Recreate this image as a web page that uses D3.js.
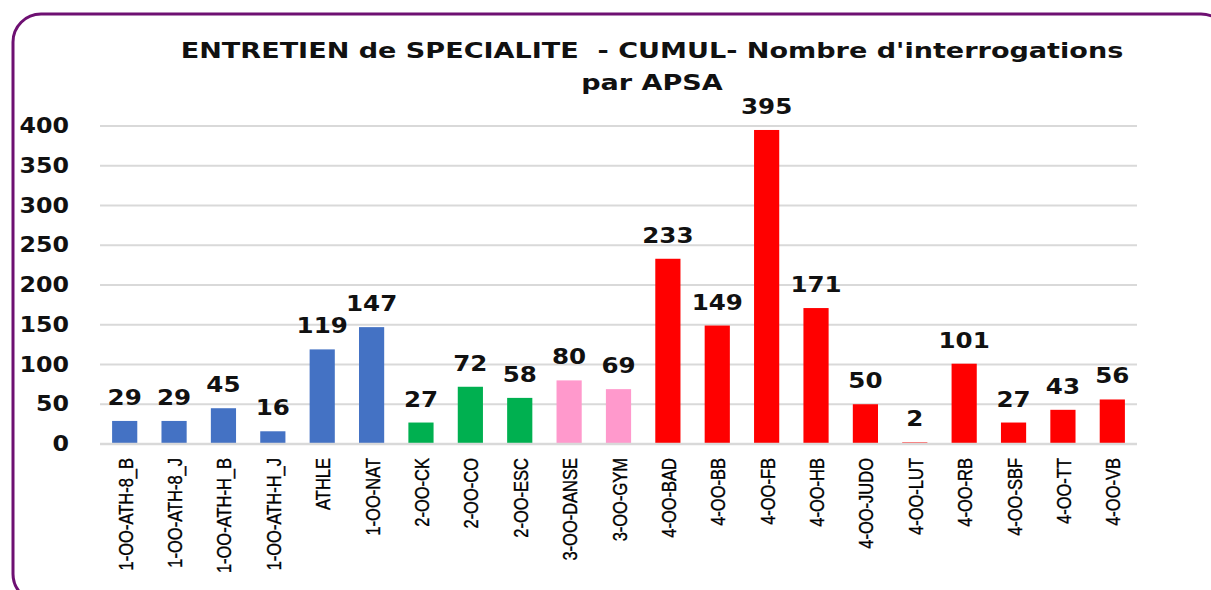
<!DOCTYPE html>
<html>
<head>
<meta charset="utf-8">
<script src="https://cdn.jsdelivr.net/npm/d3@7"></script>
<style>
  html, body { margin: 0; padding: 0; background: #fff; }
  svg { display: block; }
  text { white-space: pre; }
</style>
</head>
<body>
<div class="chart"></div>
<script>
const categories = [
  '1-OO-ATH-8_B', '1-OO-ATH-8_J', '1-OO-ATH-H_B', '1-OO-ATH-H_J', 'ATHLE', '1-OO-NAT',
  '2-OO-CK', '2-OO-CO', '2-OO-ESC', '3-OO-DANSE', '3-OO-GYM',
  '4-OO-BAD', '4-OO-BB', '4-OO-FB', '4-OO-HB', '4-OO-JUDO', '4-OO-LUT',
  '4-OO-RB', '4-OO-SBF', '4-OO-TT', '4-OO-VB'
];
const values = [29, 29, 45, 16, 119, 147, 27, 72, 58, 80, 69, 233, 149, 395, 171, 50, 2, 101, 27, 43, 56];
const groups = [1, 1, 1, 1, 1, 1, 2, 2, 2, 3, 3, 4, 4, 4, 4, 4, 4, 4, 4, 4, 4];
const yTicks = [0, 50, 100, 150, 200, 250, 300, 350, 400];
const titleLines = ["ENTRETIEN de SPECIALITE  - CUMUL- Nombre d'interrogations", 'par APSA'];

const config = {
  width: 1211,
  height: 590,
  left: 100,
  right: 1137,
  top: 126,
  bottom: 444
};

const groupColors = { 1: '#4472c4', 2: '#00b050', 3: '#ff99cc', 4: '#ff0000' };
const boldFont = '"DejaVu Sans", sans-serif';
const labelFont = '"Liberation Sans", Arial, sans-serif';

const svg = d3.select('.chart')
  .append('svg')
  .attr('width', config.width)
  .attr('height', config.height);

// purple rounded frame
svg.append('rect')
  .attr('x', 13)
  .attr('y', 14)
  .attr('width', 1216)
  .attr('height', 588)
  .attr('rx', 28)
  .attr('fill', 'none')
  .attr('stroke', '#6e1072')
  .attr('stroke-width', 3);

const x = d3.scaleBand()
  .domain(categories)
  .range([config.left, config.right])
  .paddingInner(0.49)
  .paddingOuter(0.245);

const y = d3.scaleLinear()
  .domain([0, 400])
  .range([config.bottom, config.top]);

// gridlines (the 0 line is drawn later, over the bars)
svg.append('g')
  .selectAll('line')
  .data(yTicks.filter(d => d > 0))
  .enter()
  .append('line')
  .attr('x1', config.left)
  .attr('x2', config.right)
  .attr('y1', d => y(d))
  .attr('y2', d => y(d))
  .attr('stroke', '#d9d9d9')
  .attr('stroke-width', 2);

// y tick labels (text is a bit stretched sideways in the original)
svg.append('g')
  .selectAll('text')
  .data(yTicks)
  .enter()
  .append('text')
  .attr('transform', d => `translate(69, ${y(d) + 7}) scale(1.13, 1)`)
  .attr('text-anchor', 'end')
  .attr('font-family', boldFont)
  .attr('font-weight', 'bold')
  .attr('font-size', 21)
  .attr('fill', '#111')
  .text(d => d);

// bars
svg.append('g')
  .selectAll('rect')
  .data(values)
  .enter()
  .append('rect')
  .attr('x', (d, i) => x(categories[i]))
  .attr('y', d => y(d))
  .attr('width', x.bandwidth())
  .attr('height', d => y(0) - y(d))
  .attr('fill', (d, i) => groupColors[groups[i]]);

// category axis line
svg.append('line')
  .attr('x1', config.left)
  .attr('x2', config.right)
  .attr('y1', y(0))
  .attr('y2', y(0))
  .attr('stroke', '#d9d9d9')
  .attr('stroke-width', 2.5);

// value labels
svg.append('g')
  .selectAll('text')
  .data(values)
  .enter()
  .append('text')
  .attr('transform', (d, i) => `translate(${x(categories[i]) + x.bandwidth() / 2}, ${y(d) - 16}) scale(1.17, 1)`)
  .attr('text-anchor', 'middle')
  .attr('font-family', boldFont)
  .attr('font-weight', 'bold')
  .attr('font-size', 21)
  .attr('fill', '#111')
  .text(d => d);

// category labels, rotated and condensed
svg.append('g')
  .selectAll('text')
  .data(categories)
  .enter()
  .append('text')
  .attr('transform', d => `translate(${x(d) + x.bandwidth() / 2 + 8}, 458) rotate(-90) scale(1, 1.22)`)
  .attr('text-anchor', 'end')
  .attr('font-family', labelFont)
  .attr('font-size', 16.5)
  .attr('stroke', '#000')
  .attr('stroke-width', 0.3)
  .attr('fill', '#000')
  .text(d => d);

// title
svg.append('g')
  .selectAll('text')
  .data(titleLines)
  .enter()
  .append('text')
  .attr('transform', (d, i) => `translate(652, ${58 + i * 32}) scale(1.23, 1)`)
  .attr('text-anchor', 'middle')
  .attr('font-family', boldFont)
  .attr('font-weight', 'bold')
  .attr('font-size', 22)
  .attr('fill', '#111')
  .text(d => d);
</script>
</body>
</html>
